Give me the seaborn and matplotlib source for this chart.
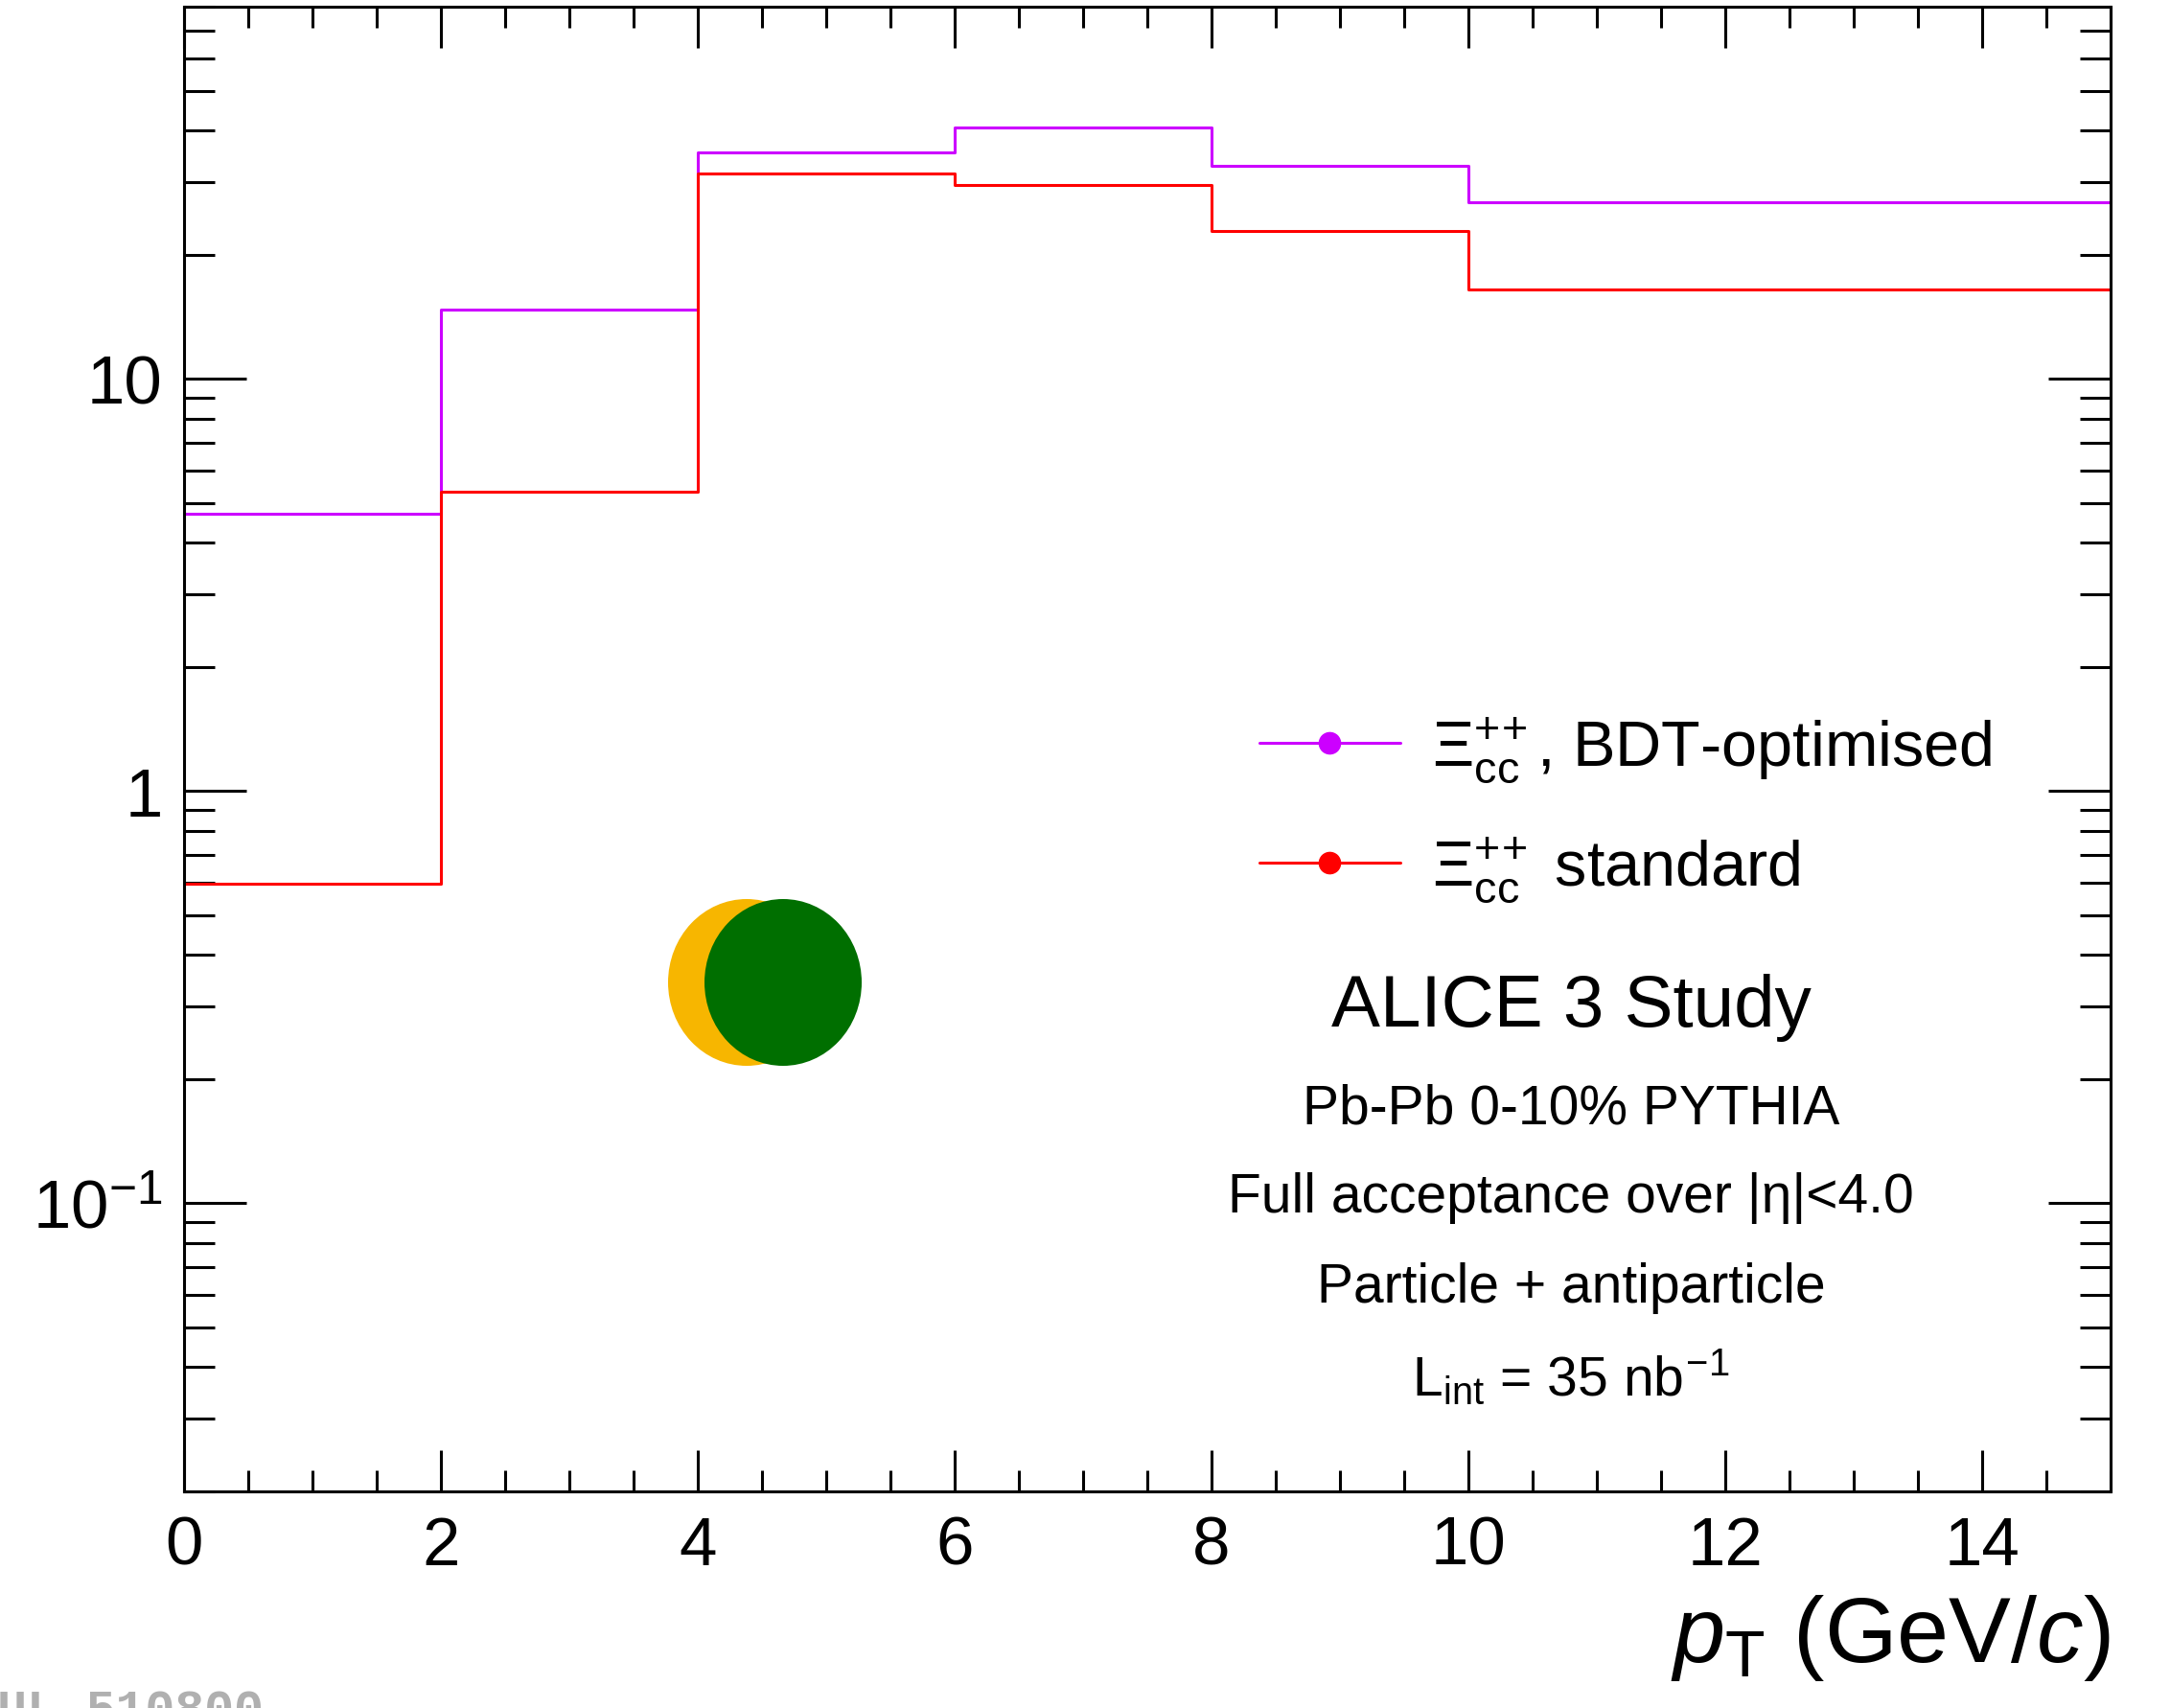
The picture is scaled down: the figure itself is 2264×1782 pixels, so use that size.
import matplotlib
matplotlib.use("Agg")
import matplotlib.pyplot as plt
import numpy as np
import pandas as pd
import seaborn as sns
from matplotlib.lines import Line2D
from matplotlib.patches import Ellipse
from matplotlib.ticker import LogLocator, MultipleLocator, NullFormatter

# ---- data -------------------------------------------------------------
pt_edges = [0, 2, 4, 6, 8, 10, 15]
bdt_counts = [4.7, 14.7, 35.5, 40.7, 32.9, 26.8]
std_counts = [0.595, 5.32, 31.5, 29.5, 22.9, 16.5]
series_keys = ["bdt", "std"]
series_labels = [r"$\Xi_{\rm cc}^{+\!+}$, BDT-optimised",
                 r"$\Xi_{\rm cc}^{+\!+}$ standard"]
series_colors = ["#cc00ff", "#ff0000"]
x_ticks = [0, 2, 4, 6, 8, 10, 12, 14]
y_ticks = [0.1, 1, 10]
y_ticklabels = [r"$10^{-1}$", "1", "10"]
title_line = "ALICE 3 Study"
info_lines = [
    "Pb-Pb 0-10% PYTHIA",
    "Full acceptance over |η|<4.0",
    "Particle + antiparticle",
    r"L$_{\rm int}$ = 35 nb$^{\!-\!1}$",
]
x_label = r"$p_{\rm T}$ (GeV/$c$)"
record_id = "ALI-SIMUL-510800"

# ---- style ------------------------------------------------------------
sns.set_theme(style="ticks")
plt.rcParams["font.family"] = ["Liberation Sans", "DejaVu Sans"]
plt.rcParams["mathtext.fontset"] = "custom"
plt.rcParams["mathtext.rm"] = "Liberation Sans"
plt.rcParams["mathtext.it"] = "Liberation Sans:italic"
plt.rcParams["mathtext.bf"] = "Liberation Sans:bold"
plt.rcParams["axes.edgecolor"] = "black"
plt.rcParams["text.color"] = "black"
plt.rcParams["axes.labelcolor"] = "black"
plt.rcParams["xtick.color"] = "black"
plt.rcParams["ytick.color"] = "black"

centers = [(a + b) / 2 for a, b in zip(pt_edges[:-1], pt_edges[1:])]
df = pd.DataFrame({
    "pt": centers * 2,
    "count": bdt_counts + std_counts,
    "sel": [series_keys[0]] * len(centers) + [series_keys[1]] * len(centers),
})

fig = plt.figure(figsize=(22.64, 17.83), dpi=100)
ax = fig.add_axes([0.0848, 0.1268, 0.8878, 0.8687])
ax.set_yscale("log")

for key, color in zip(series_keys, series_colors):
    sns.histplot(data=df[df["sel"] == key], x="pt", weights="count",
                 bins=pt_edges, element="step", fill=False,
                 color=color, linewidth=2.2, ax=ax)

ax.set_xlim(0, 15)
ax.set_ylim(0.02, 80)
ax.set_ylabel("")
ax.set_xticks(x_ticks)
ax.set_xticklabels([str(t) for t in x_ticks])
ax.xaxis.set_minor_locator(MultipleLocator(0.5))
ax.set_yticks(y_ticks)
ax.set_yticklabels(y_ticklabels)
ax.yaxis.set_minor_locator(LogLocator(base=10, subs=np.arange(2, 10), numticks=20))
ax.yaxis.set_minor_formatter(NullFormatter())

for s in ax.spines.values():
    s.set_linewidth(2.2)
    s.set_color("black")

ax.tick_params(which="both", direction="in", top=True, right=True,
               width=2.2, color="black", labelcolor="black")
ax.tick_params(axis="y", which="major", length=47, pad=16, labelsize=51)
ax.tick_params(axis="y", which="minor", length=23)
ax.tick_params(axis="x", which="major", length=31, pad=18, labelsize=51)
ax.tick_params(axis="x", which="minor", length=16)

ax.set_xlabel(x_label, fontsize=70, ha="right", va="top", color="black")
ax.xaxis.set_label_coords(1.0, -0.068)

# legend
handles = [Line2D([], [], color=c, lw=2.2, marker="o", markersize=16)
           for c in series_colors]
leg = ax.legend(handles, series_labels, loc="center left",
                bbox_to_anchor=(0.5804, 0.526), bbox_transform=fig.transFigure,
                frameon=False, fontsize=48, handlelength=2.2, handletextpad=0.5,
                labelspacing=0.78, borderpad=0, borderaxespad=0, numpoints=1)
for t in leg.get_texts():
    t.set_color("black")

# text block
fig.text(0.724, 0.4105, title_line, ha="center", va="center", fontsize=55)
for y, line in zip([0.351, 0.299, 0.246, 0.194], info_lines):
    fig.text(0.724, y, line, ha="center", va="center", fontsize=41)

# logo
fig.add_artist(Ellipse((779 / 2264, 1 - 1026 / 1783), 164 / 2264, 174 / 1783,
                       transform=fig.transFigure, color="#f7b600", lw=0))
fig.add_artist(Ellipse((817 / 2264, 1 - 1026 / 1783), 164 / 2264, 174 / 1783,
                       transform=fig.transFigure, color="#006f00", lw=0))

# record identifier
fig.text(275 / 2264, 1 - 1800 / 1783, record_id, ha="right", va="baseline",
         family=["Liberation Mono", "DejaVu Sans Mono"], weight="bold",
         color="#b0b0b0", fontsize=37)

fig.savefig("out.png", dpi=100)
